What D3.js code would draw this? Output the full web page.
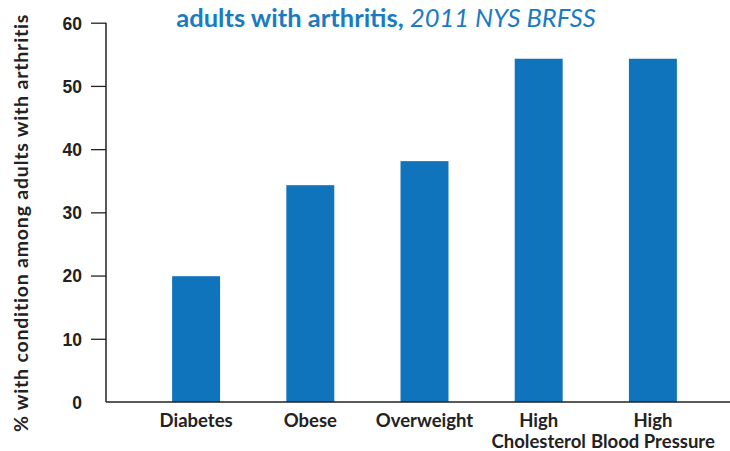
<!DOCTYPE html>
<html>
<head>
<meta charset="utf-8">
<script src="https://cdn.jsdelivr.net/npm/d3@7"></script>
<style>
  body { margin: 0; background: #fff; }
  svg { display: block; font-family: Lato, "Noto Sans", sans-serif; }
</style>
</head>
<body>
<svg id="chart" width="730" height="451"></svg>
<script>
// conditions among adults with arthritis
const categories = [["Diabetes"], ["Obese"], ["Overweight"], ["High", "Cholesterol"], ["High", "Blood Pressure"]]
const values = [19.9, 34.3, 38.1, 54.3, 54.3]
const yTicks = [0, 10, 20, 30, 40, 50, 60]

var svg = d3.select("#chart"),
    blue = "#1074bc",
    ink = "#222";

var x = d3.scaleBand()
    .domain(categories.map(d => d.join(" ")))
    .range([139, 710])
    .paddingInner(0.58)
    .paddingOuter(0.29);

var y = d3.scaleLinear()
    .domain([0, 60])
    .range([402, 22.7]);

// title (second line only is in view)
var title = svg.append("text")
    .attr("x", 386)
    .attr("y", 27)
    .attr("text-anchor", "middle")
    .attr("fill", "#1a7bc3")
    .style("font-size", "25.5px");
title.append("tspan").attr("font-weight", 700).text("adults with arthritis, ");
title.append("tspan").attr("font-style", "italic").attr("font-weight", 400).text("2011 NYS BRFSS");

// bars
svg.append("g")
  .selectAll("rect")
  .data(values)
  .enter().append("rect")
    .attr("x", (d, i) => x(categories[i].join(" ")))
    .attr("width", x.bandwidth())
    .attr("y", d => y(d))
    .attr("height", d => y(0) - y(d))
    .attr("fill", blue);

// y axis
var yAxis = svg.append("g")
    .attr("transform", "translate(106,0)")
    .call(d3.axisLeft(y).tickValues(yTicks).tickSize(15).tickPadding(9));
yAxis.select(".domain").attr("d", "M0," + y(60) + "V" + y(0)).attr("stroke", ink).attr("stroke-width", 1.5);
yAxis.selectAll(".tick line").attr("stroke", ink).attr("stroke-width", 1.3)
    .filter(d => d === 0).remove();
yAxis.selectAll(".tick text")
    .attr("fill", ink)
    .style("font-size", "17.5px")
    .style("font-weight", 700)
    .attr("dy", "0.36em");

// x baseline
svg.append("line")
    .attr("x1", 106).attr("x2", 730)
    .attr("y1", y(0)).attr("y2", y(0))
    .attr("stroke", ink).attr("stroke-width", 1.5);

// x labels
svg.append("g")
  .selectAll("text")
  .data(categories)
  .enter().append("text")
    .attr("text-anchor", "middle")
    .attr("fill", ink)
    .style("font-size", "18.5px")
    .style("font-weight", 700)
    .attr("transform", d => "translate(" + (x(d.join(" ")) + x.bandwidth() / 2) + ",427)")
  .selectAll("tspan")
  .data(d => d)
  .enter().append("tspan")
    .attr("x", 0)
    .attr("dy", (d, i) => i ? 21 : 0)
    .text(d => d);

// y label
svg.append("text")
    .attr("transform", "translate(28,223) rotate(-90)")
    .attr("text-anchor", "middle")
    .attr("fill", ink)
    .style("font-size", "19.5px")
    .style("font-weight", 700)
    .style("letter-spacing", "0.8px")
    .text("% with condition among adults with arthritis");
</script>
</body>
</html>
